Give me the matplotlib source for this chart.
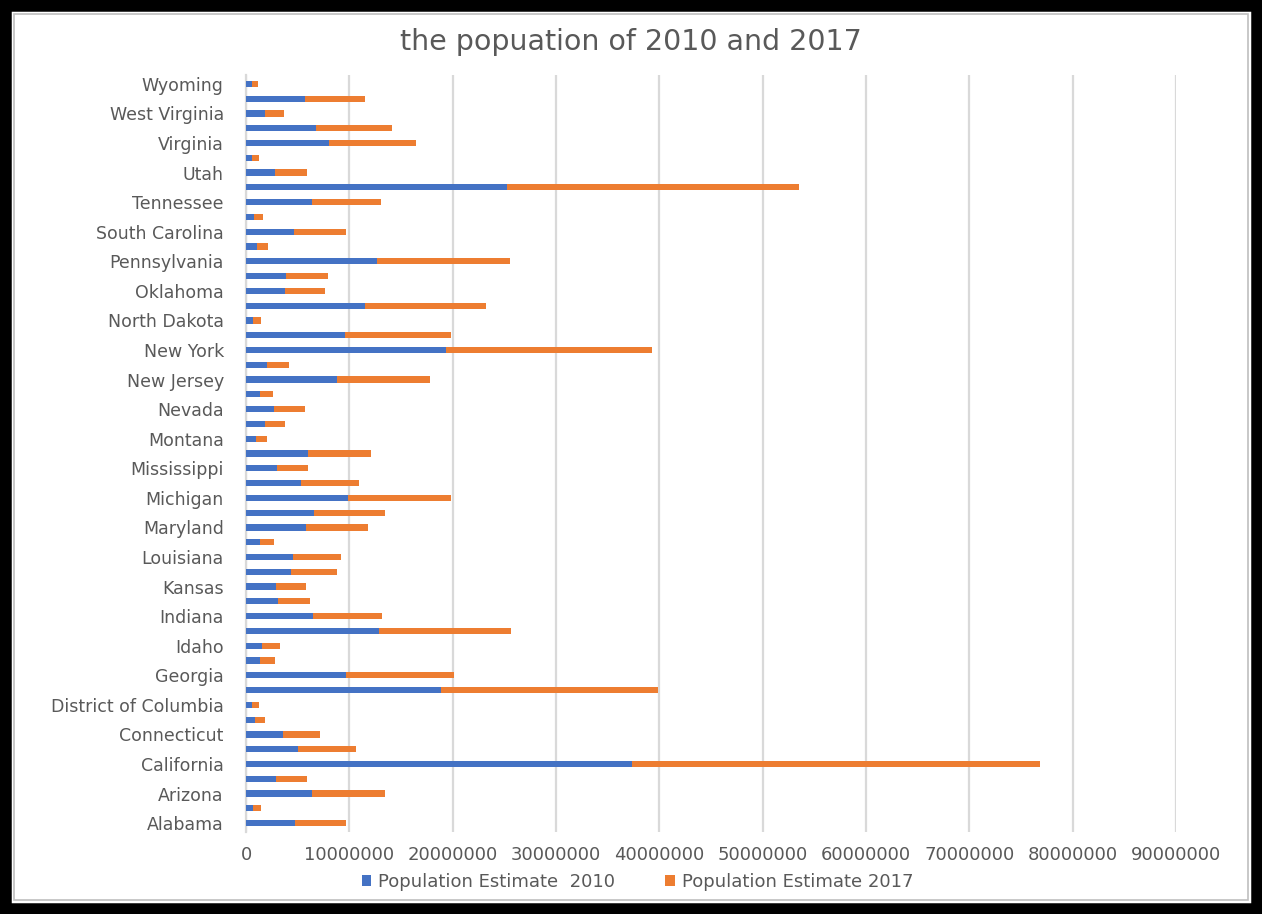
import matplotlib
matplotlib.use("Agg")
import matplotlib.pyplot as plt
from matplotlib.patches import Rectangle
import numpy as np

# states in alphabetical order (Alabama at the bottom)
states = ["Alabama", "Alaska", "Arizona", "Arkansas", "California", "Colorado",
          "Connecticut", "Delaware", "District of Columbia", "Florida", "Georgia",
          "Hawaii", "Idaho", "Illinois", "Indiana", "Iowa", "Kansas", "Kentucky",
          "Louisiana", "Maine", "Maryland", "Massachusetts", "Michigan", "Minnesota",
          "Mississippi", "Missouri", "Montana", "Nebraska", "Nevada", "New Hampshire",
          "New Jersey", "New Mexico", "New York", "North Carolina", "North Dakota",
          "Ohio", "Oklahoma", "Oregon", "Pennsylvania", "Rhode Island",
          "South Carolina", "South Dakota", "Tennessee", "Texas", "Utah", "Vermont",
          "Virginia", "Washington", "West Virginia", "Wisconsin", "Wyoming"]

pop_2010 = [4785000, 714000, 6408000, 2922000, 37320000, 5048000, 3580000, 900000,
            605000, 18850000, 9712000, 1364000, 1571000, 12840000, 6490000, 3050000,
            2859000, 4349000, 4545000, 1328000, 5788000, 6566000, 9877000, 5311000,
            2971000, 5996000, 990000, 1830000, 2703000, 1317000, 8799000, 2065000,
            19400000, 9574000, 674000, 11540000, 3760000, 3838000, 12710000,
            1053000, 4636000, 816000, 6357000, 25240000, 2776000, 626000, 8025000,
            6742000, 1854000, 5690000, 564000]

pop_2017 = [4875000, 740000, 7016000, 3004000, 39540000, 5607000, 3588000, 962000,
            694000, 20980000, 10430000, 1428000, 1717000, 12800000, 6667000, 3146000,
            2913000, 4454000, 4684000, 1336000, 6052000, 6860000, 9962000, 5577000,
            2984000, 6114000, 1050000, 1920000, 2998000, 1342000, 9006000, 2088000,
            19850000, 10270000, 755000, 11660000, 3931000, 4143000, 12810000,
            1060000, 5025000, 870000, 6716000, 28300000, 3101000, 624000, 8470000,
            7406000, 1816000, 5795000, 579000]

x_ticks = [0, 10000000, 20000000, 30000000, 40000000, 50000000, 60000000,
           70000000, 80000000, 90000000]

blue = "#4472C4"
orange = "#ED7D31"
grey_text = "#595959"

fig = plt.figure(figsize=(12.62, 9.14), dpi=100)
ax = fig.add_axes([246 / 1262, 1 - 832 / 914, 930 / 1262, 757 / 914])

y = np.arange(len(states))
ax.barh(y, pop_2010, height=0.42, color=blue, label="Population Estimate  2010", zorder=3)
ax.barh(y, pop_2017, left=pop_2010, height=0.42, color=orange,
        label="Population Estimate 2017", zorder=3)

ax.set_xlim(0, 90000000)
ax.set_ylim(-0.6, len(states) - 0.4)
ax.set_xticks(x_ticks)
ax.set_xticklabels([str(t) for t in x_ticks], fontsize=13, color=grey_text)
ax.set_yticks(y[::2])
ax.set_yticklabels(states[::2], fontsize=12.5, color=grey_text)
ax.tick_params(axis="y", length=0, pad=16)
ax.tick_params(axis="x", length=0, pad=10)
ax.grid(axis="x", color="#d9d9d9", linewidth=1.6, zorder=0)
for s in ["top", "right", "bottom"]:
    ax.spines[s].set_visible(False)
ax.spines["left"].set_color("#d9d9d9")
ax.spines["left"].set_linewidth(1.6)

fig.text(0.5, 1 - 42 / 914, "the popuation of 2010 and 2017", ha="center", va="center",
         fontsize=20.5, color=grey_text)

leg = fig.legend(loc="center", bbox_to_anchor=(0.505, 1 - 882 / 914), ncol=2,
                 frameon=False, fontsize=13, handlelength=0.55, handleheight=0.55,
                 columnspacing=2.8, handletextpad=0.35)
for t in leg.get_texts():
    t.set_color(grey_text)

# outer black frame and thin inner chart border
fig.patches.append(Rectangle((0.004, 0.005), 0.992, 0.99, transform=fig.transFigure,
                             fill=False, edgecolor="black", linewidth=9))
fig.patches.append(Rectangle((14 / 1262, 14 / 914), 1 - 28 / 1262, 1 - 28 / 914,
                             transform=fig.transFigure, fill=False,
                             edgecolor="#bfbfbf", linewidth=1.2))

fig.savefig("out.png", dpi=100)
